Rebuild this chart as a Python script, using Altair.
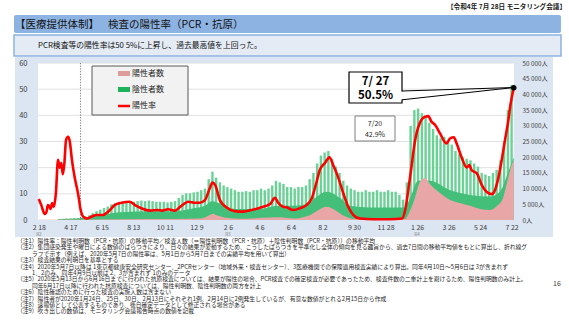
import json
import altair as alt
import pandas as pd

FONT = "Noto Sans CJK JP"

# ---------------- data ----------------
tick_days = [0, 59, 118, 177, 236, 295, 354, 413, 472, 531, 590, 649, 708, 767, 826, 885]
tick_labels = ["2 18", "4 17", "6 15", "8 13", "10 11", "12 9", "2 6", "4 6", "6 4",
               "8 2", "9 30", "11 28", "1 26", "3 26", "5 24", "7 22"]
era_days = [0, 354, 708]
era_labels = ["R2", "R3", "R4"]
boundary_day = [78]

# positivity rate (%), days counted from 2020-02-18
rate_days = [0, 5, 11, 14, 17, 20, 22, 25, 28, 32,
             36, 39, 42, 45, 48, 51, 55, 58, 62, 67,
             74, 78, 83, 90, 99, 108, 120, 130, 142, 155,
             170, 180, 192, 208, 223, 230, 242, 255, 264, 280,
             292, 301, 311, 320, 325, 330, 339, 351, 367, 383,
             398, 417, 433, 442, 448, 457, 464, 476, 489, 501,
             511, 520, 526, 536, 544, 551, 560, 570, 579, 589,
             601, 626, 657, 680, 686, 692, 698, 704, 713, 723,
             729, 735, 742, 751, 763, 770, 777, 782, 792, 801,
             806, 810, 820, 829, 838, 848, 854, 860, 866, 873,
             879, 882, 886, 889]
rate_values = [8.0, 5.5, 2.3, 2.8, 5.7, 5.0, 4.2, 6.5, 5.0, 10.3,
               23.0, 20.0, 21.8, 17.5, 22.0, 30.6, 31.8, 30.0, 23.0, 16.5,
               9.5, 4.2, 1.3, 0.6, 1.3, 1.9, 1.9, 3.2, 5.7, 6.6,
               7.0, 5.7, 4.5, 3.6, 3.8, 3.6, 4.1, 3.6, 4.9, 7.0,
               6.6, 6.6, 7.6, 12.1, 14.3, 13.4, 7.6, 4.9, 3.4, 3.2,
               3.8, 4.9, 6.1, 8.5, 6.6, 5.1, 4.9, 3.8, 4.5, 5.7,
               8.3, 14.6, 19.1, 21.9, 24.0, 21.0, 16.5, 10.2, 5.1, 1.9,
               0.6, 0.3, 0.3, 0.6, 4.0, 12.0, 21.0, 30.0, 37.0, 39.5,
               39.7, 37.6, 36.3, 33.1, 29.3, 31.2, 31.6, 29.3, 23.6, 20.1,
               21.0, 19.1, 17.8, 13.4, 10.8, 9.9, 11.5, 15.9, 22.3, 31.0,
               38.2, 42.9, 47.5, 50.5]

# negative results, weekly peaks (thousand people), one per week from 2020-02-18
neg_week_peak = [0, 0, 0, 0, 0, 0.3, 0.4, 0.5, 0.5, 0.6,
                 0.6, 0.8, 1.2, 1.5, 2.2, 2.8, 3.3, 3.8, 4.3, 5.0,
                 5.4, 5.6, 5.8, 5.8, 6.0, 5.8, 6.0, 6.2, 6.0, 6.2,
                 6.0, 5.8, 5.8, 5.8, 5.6, 5.8, 6.0, 7.0, 8.0, 8.5,
                 8.5, 8.8, 9.0, 9.5, 10.0, 13.0, 15.4, 13.5, 12.0, 11.0,
                 10.5, 10.0, 9.5, 9.0, 9.0, 9.2, 9.0, 9.5, 9.5, 10.0,
                 9.5, 10.0, 11.0, 12.5, 12.0, 11.5, 10.5, 10.5, 10.0, 10.5,
                 10.5, 11.0, 13.0, 15.0, 18.0, 20.5, 21.5, 22.0, 19.5, 17.0,
                 15.0, 12.5, 11.0, 10.0, 9.5, 9.0, 9.0, 9.5, 9.0, 9.0,
                 9.5, 9.0, 9.0, 9.5, 9.0, 9.0, 8.0, 6.5, 12.0, 30.0,
                 35.0, 35.5, 34.0, 33.0, 31.0, 29.0, 27.0, 26.0, 26.5, 25.0,
                 24.0, 22.0, 21.0, 20.0, 19.5, 19.0, 18.0, 17.0, 15.0, 14.5,
                 14.0, 15.0, 16.0, 19.0, 25.0, 35.0, 43.0]

# negative results, low (weekend) level (thousand people)
neg_base_days = [36, 82, 114, 152, 208, 255, 283, 311, 324, 343,
                 367, 414, 448, 470, 502, 517, 539, 564, 582, 620,
                 685, 695, 710, 732, 770, 807, 845, 863, 878, 889]
neg_base_values = [0.2, 0.6, 1.5, 2.5, 2.8, 2.8, 3.5, 4.5, 6.0, 5.0,
                   3.5, 3.5, 4.5, 4.5, 5.0, 7.0, 9.0, 7.0, 4.5, 4.0,
                   4.0, 7.0, 12.5, 12.5, 9.5, 8.0, 7.5, 9.0, 15.0, 20.0]

# positive results (thousand people)
pos_days = [0, 208, 301, 311, 320, 326, 333, 348, 376, 433,
            451, 479, 507, 522, 539, 554, 573, 592, 685, 695,
            704, 713, 723, 732, 751, 770, 788, 807, 826, 845,
            858, 869, 878, 886, 889]
pos_values = [0.1, 0.3, 0.5, 0.8, 1.6, 2.0, 1.5, 0.8, 0.4, 0.8,
              0.9, 0.5, 1.5, 3.0, 4.2, 3.2, 1.2, 0.3, 0.3, 3.0,
              7.0, 12.0, 13.4, 11.5, 8.6, 6.4, 5.4, 4.5, 3.5, 3.2,
              4.5, 7.0, 13.0, 18.0, 19.0]

rate_grid = [10, 20, 30, 40, 50, 60]
rate_ticks = [0, 10, 20, 30, 40, 50, 60]
count_ticks = [0, 5000, 10000, 15000, 20000, 25000, 30000, 35000, 40000, 45000, 50000]

latest = {"day": [889], "r": [50.5]}

footnotes = [
    "（注1）陽性率：陽性判明数（PCR・抗原）の移動平均／検査人数（＝陽性判明数（PCR・抗原）＋陰性判明数（PCR・抗原））の移動平均",
    "（注2）集団感染発生や曜日による数値のばらつきにより、日々の結果が変動するため、こうしたばらつきを平準化し全体の傾向を見る趣旨から、過去7日間の移動平均値をもとに算出し、折れ線グ",
    "ラフで示す（例えば、2020年5月7日の陽性率は、5月1日から5月7日までの実績平均を用いて算出）",
    "（注3）検査結果の判明日を基準とする",
    "（注4）2020年5月7日以降は 1東京都健康安全研究センター、2PCRセンター（地域外来・検査センター）、3医療機関での保険適用検査実績により算出。同年4月10日〜5月6日は 3が含まれず",
    "1、2のみ、同年4月9日以前は 2、3が含まれず 1のみのデータ",
    "（注5）2020年5月13日から6月16日までに行われた抗原検査については、結果が陽性の場合、PCR検査での確定検査が必要であったため、検査件数の二重計上を避けるため、陽性判明数のみ計上。",
    "同年6月17日以降に行われた抗原検査については、陽性判明数、陰性判明数の両方を計上",
    "（注6）陰性確認のために行った検査の実施人数は含まない",
    "（注7）陽性者が2020年1月24日、25日、30日、2月13日にそれぞれ1例、2月14日に2例発生しているが、有意な数値がとれる2月15日から作成",
    "（注8）速報値として公表するものであり、後日確定データとして修正される場合がある",
    "（注9）吹き出しの数値は、モニタリング会議報告時点の数値を記載",
]

# ---------------- layout helpers ----------------
W, H = 476, 157          # plot area
OX, OY = 38, 63          # plot origin on the page


def px(x):
    return x - OX


def py(y):
    return y - OY


one = pd.DataFrame({"k": [0]})


def rect(x0, x1, y0, y1, **kw):
    return alt.Chart(one).mark_rect(**kw).encode(
        x=alt.value(px(x0)), x2=alt.value(px(x1)),
        y=alt.value(py(y0)), y2=alt.value(py(y1)))


def text(t, x, y, size, **kw):
    kw.setdefault("font", FONT)
    kw.setdefault("baseline", "middle")
    kw.setdefault("color", "#262626")
    return alt.Chart(one).mark_text(fontSize=size, **kw).encode(
        x=alt.value(px(x)), y=alt.value(py(y)), text=alt.value(t))


def seg(x0, y0, x1, y1, **kw):
    return alt.Chart(one).mark_rule(**kw).encode(
        x=alt.value(px(x0)), y=alt.value(py(y0)),
        x2=alt.value(px(x1)), y2=alt.value(py(y1)))


# ---------------- shared encodings ----------------
x_label_expr = f"{json.dumps(tick_labels)}[indexof({json.dumps(tick_days)}, datum.value)]"
X = alt.X("day:Q",
          scale=alt.Scale(domain=[-1.5, 889.5], nice=False, zero=False, padding=0),
          axis=alt.Axis(values=tick_days, labelExpr=x_label_expr, title=None,
                        grid=False, ticks=False, domain=False,
                        labelFont=FONT, labelFontSize=7, labelColor="#404040",
                        labelPadding=3, labelFlush=False, labelOverlap=False,
                        zindex=1))

Y_rate = alt.Y("r:Q",
               scale=alt.Scale(domain=[0, 60], nice=False),
               axis=alt.Axis(orient="left", values=rate_ticks, title=None,
                             grid=False, ticks=False, domain=False,
                             labelFont=FONT, labelFontSize=7.5, labelColor="#404040",
                             labelPadding=11, zindex=1))

Y_count = alt.Y("v:Q",
                scale=alt.Scale(domain=[0, 50000], nice=False),
                axis=alt.Axis(orient="right", values=count_ticks, title=None,
                              labelExpr="replace(format(datum.value, ','), ',', ' ') + '人'",
                              grid=False, ticks=False, domain=False,
                              labelFont=FONT, labelFontSize=6.3, labelColor="#404040",
                              labelPadding=8, zindex=1))

# ---------------- data tables ----------------
df_rate = pd.DataFrame({"day": rate_days, "r": rate_values})
df_peak = pd.DataFrame({"day": [7 * i + 3 for i in range(len(neg_week_peak))],
                        "v": [v * 1000 for v in neg_week_peak]})
df_base = pd.DataFrame({"day": neg_base_days, "v": [v * 1000 for v in neg_base_values]})
df_pos = pd.DataFrame({"day": pos_days, "v": [v * 1000 for v in pos_values]})
df_grid = pd.DataFrame({"g": rate_grid})
df_era = pd.DataFrame({"day": era_days, "lab": era_labels})
df_boundary = pd.DataFrame({"day": boundary_day})
df_latest = pd.DataFrame(latest)

# ---------------- layers ----------------
grid = alt.Chart(df_grid).mark_rule(color="#d9d9d9", strokeWidth=0.8).encode(
    y=alt.Y("g:Q", scale=alt.Scale(domain=[0, 60], nice=False), axis=None))

counts = alt.layer(
    alt.Chart(df_peak).mark_bar(size=2.4, color="#6ad296").encode(x=X, y=Y_count),
    alt.Chart(df_base).mark_area(color="#43bf79", interpolate="monotone").encode(x=X, y=Y_count),
    alt.Chart(df_pos).mark_area(color="#e8a6a6", interpolate="monotone").encode(x=X, y=Y_count),
)

rates = alt.layer(
    alt.Chart(df_rate).mark_line(color="#ff0000", strokeWidth=2.6, interpolate="monotone").encode(x=X, y=Y_rate),
    alt.Chart(df_latest).mark_point(filled=True, color="#000000", opacity=1, size=30).encode(x=X, y=Y_rate),
)

boundary = alt.Chart(df_boundary).mark_rule(color="#595959", strokeWidth=0.8, strokeDash=[1.2, 1.5]).encode(x=X)

era = alt.Chart(df_era).mark_text(font=FONT, fontSize=4.5, color="#7f7f7f", baseline="middle").encode(
    x=X, y=alt.value(py(234.5)), text="lab:N")

panel_bg = "#dce6f2"
frame = [
    rect(15, 553, 57, OY, fill=panel_bg),
    rect(15, 553, OY + H, 237, fill=panel_bg),
    rect(15, OX, OY, OY + H, fill=panel_bg),
    rect(OX + W, 553, OY, OY + H, fill=panel_bg),
]

header = [
    text("【令和4年 7月 28日 モニタリング会議】", 566, 7, 6.6, align="right", fontWeight="bold", color="#1a1a1a"),
    rect(14, 561, 15, 33, fill="#8db3e2", cornerRadius=2),
    text("【医療提供体制】", 15, 24.5, 10.5, align="left", color="#111111"),
    text("検査の陽性率（PCR・抗原）", 108, 24.5, 10.5, align="left", color="#111111"),
    rect(14, 561, 35, 56, fill="#e4ebf5", stroke="#8db3e2", strokeWidth=1.5),
    text("PCR検査等の陽性率は50 5%に上昇し、過去最高値を上回った。", 38, 45.5, 7.8, align="left", color="#111111"),
]

legend = [
    rect(92, 188, 66, 115, fill="#f2f2f2", stroke="#595959", strokeWidth=1),
    rect(118, 130, 71, 76, fill="#dc9c9c"),
    text("陽性者数", 132, 73.5, 8, align="left"),
    rect(118, 130, 87, 92, fill="#1db35a"),
    text("陰性者数", 132, 89.5, 8, align="left"),
    seg(118, 106, 130, 106, color="#ff0000", strokeWidth=2.5),
    text("陽性率", 132, 106, 8, align="left"),
]

callouts = [
    rect(349, 402, 72, 103, fill="#ffffff", stroke="#000000", strokeWidth=1.2),
    rect(400.8, 403.5, 91.5, 99.5, fill="#ffffff"),
    seg(402, 91, 514, 87.5, color="#000000", strokeWidth=1),
    seg(402, 99.8, 514, 87.5, color="#000000", strokeWidth=1),
    text("7/ 27", 375.5, 81.5, 11.5, fontWeight="bold", color="#000000"),
    text("50.5%", 375.5, 95.5, 11.5, fontWeight="bold", color="#000000"),
    rect(355, 395, 116, 141, fill="#ffffff", stroke="#7f7f7f", strokeWidth=1),
    text("7/20", 375, 123.5, 7, color="#262626"),
    text("42.9%", 375, 134.5, 7, color="#262626"),
]

notes = []
for i, line in enumerate(footnotes):
    indent = 17 if line.startswith("（注") else 32
    notes.append(text(line, indent, 241 + i * 6.4, 5.8, align="left", color="#262626"))
notes.append(text("16", 553, 284, 7, align="left", color="#404040"))

chart = alt.layer(
    *frame, grid, counts, boundary, rates, era, *header, *legend, *callouts, *notes
).resolve_scale(y="independent").properties(
    width=W, height=H,
    autosize=alt.AutoSizeParams(type="none"),
    padding={"left": OX, "top": OY, "right": 569 - OX - W, "bottom": 320 - OY - H},
    background="#ffffff",
).configure_view(stroke="transparent")

chart.save("out.html", embed_options={"renderer": "svg", "actions": False})
